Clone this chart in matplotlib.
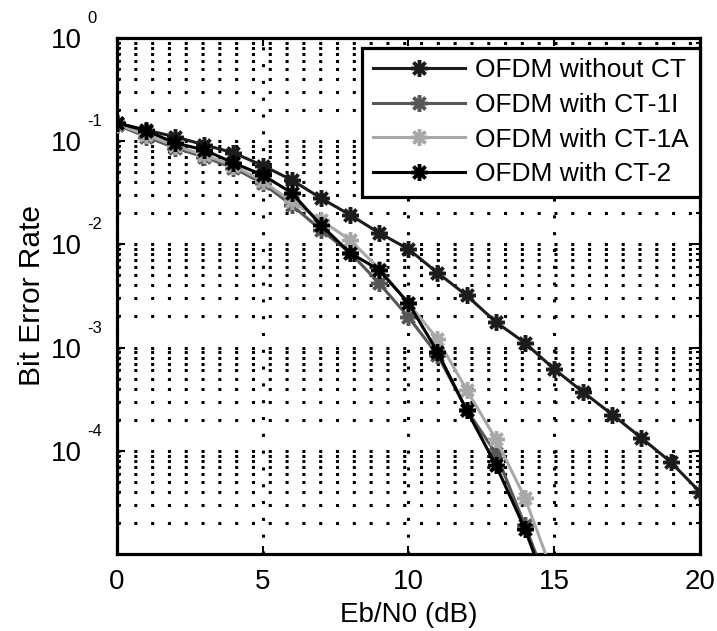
import numpy as np
import matplotlib
matplotlib.use('Agg')
import matplotlib.pyplot as plt
from matplotlib.ticker import LogLocator, NullFormatter, FixedLocator

plt.rcParams['font.family'] = ['Liberation Sans', 'DejaVu Sans']

# Eb/N0 (dB)
snr_full = [0, 1, 2, 3, 4, 5, 6, 7, 8, 9, 10, 11, 12, 13, 14, 15, 16, 17, 18, 19, 20]
snr_ct = [0, 1, 2, 3, 4, 5, 6, 7, 8, 9, 10, 11, 12, 13, 14, 15]

# BER
ber_no_ct = [0.150, 0.128, 0.110, 0.092, 0.077, 0.058, 0.042, 0.028, 0.0193, 0.0129,
             0.0090, 0.0053, 0.0032, 0.00177, 0.00111, 0.00062, 0.00037, 0.000224,
             0.000133, 7.8e-5, 4.0e-5]
ber_ct1i = [0.144, 0.110, 0.086, 0.070, 0.055, 0.039, 0.024, 0.0138, 0.0083, 0.0042,
            0.00198, 0.00085, 0.00025, 9.5e-5, 1.9e-5, 3.5e-6]
ber_ct1a = [0.146, 0.115, 0.090, 0.073, 0.058, 0.041, 0.026, 0.0172, 0.0110, 0.0058,
            0.0027, 0.00121, 0.00039, 0.00013, 3.5e-5, 6.0e-6]
ber_ct2 = [0.150, 0.126, 0.096, 0.082, 0.0615, 0.047, 0.0315, 0.0154, 0.00826, 0.00565,
           0.0027, 0.00091, 0.000248, 7.3e-5, 1.75e-5, 3.0e-6]

labels = ['OFDM without CT', 'OFDM with CT-1I', 'OFDM with CT-1A', 'OFDM with CT-2']
colors = ['#1c1c1c', '#575757', '#a8a8a8', '#000000']

fig = plt.figure(figsize=(7.17, 6.31), dpi=100)
ax = fig.add_axes([0.163, 0.122, 0.813, 0.818])

star = (8, 2, 0)  # asterisk like matlab '*'
series = [(snr_full, ber_no_ct), (snr_ct, ber_ct1i), (snr_ct, ber_ct1a), (snr_ct, ber_ct2)]
for (x, y), lab, c in zip(series, labels, colors):
    ax.semilogy(x, y, color=c, lw=2.2, marker=star, ms=12, mew=2.5, mec=c, label=lab, zorder=3)

ax.set_xlim(0, 20)
ax.set_ylim(1e-5, 1)
ax.set_xticks([0, 5, 10, 15, 20])
ax.yaxis.set_major_locator(FixedLocator([1e-4, 1e-3, 1e-2, 1e-1, 1e0]))
ax.yaxis.set_minor_locator(LogLocator(base=10, subs=np.arange(2, 10), numticks=20))
ax.yaxis.set_minor_formatter(NullFormatter())

# grid: dotted, horizontal at every log step, vertical at major x only
dots = (0, (1, 4.5))
ax.grid(True, axis='y', which='both', color='k', lw=2.2, ls=dots, zorder=1)
ax.grid(True, axis='x', which='major', color='k', lw=2.2, ls=dots, zorder=1)

for s in ax.spines.values():
    s.set_linewidth(2.3)
ax.tick_params(which='both', direction='in', top=True, right=True, width=1.5)
ax.tick_params(which='major', length=6)
ax.tick_params(which='minor', length=3)
ax.tick_params(axis='x', labelsize=20, pad=11)

# y labels drawn matlab style: "10" with raised exponent
ax.set_yticklabels(['10'] * 5, fontsize=20)
ax.tick_params(axis='y', pad=25)
for e in [-4, -3, -2, -1, 0]:
    ax.annotate(str(e), xy=(0, 10.0 ** e), xycoords=ax.get_yaxis_transform(),
                xytext=(-21, 14), textcoords='offset points', fontsize=12,
                ha='left', va='center')

ax.set_xlabel('Eb/N0 (dB)', fontsize=20, labelpad=5)
ax.set_ylabel('Bit Error Rate', fontsize=21.5, labelpad=4)

leg = ax.legend(loc='upper right', bbox_to_anchor=(1.0, 1 - 10 / 516), borderaxespad=0,
                fontsize=19, handlelength=3.5, handletextpad=0.4, labelspacing=0.4,
                fancybox=False, framealpha=1, edgecolor='k', borderpad=0.4)
leg.get_frame().set_linewidth(2.3)
leg.set_zorder(5)

fig.savefig('out.png', dpi=100)
